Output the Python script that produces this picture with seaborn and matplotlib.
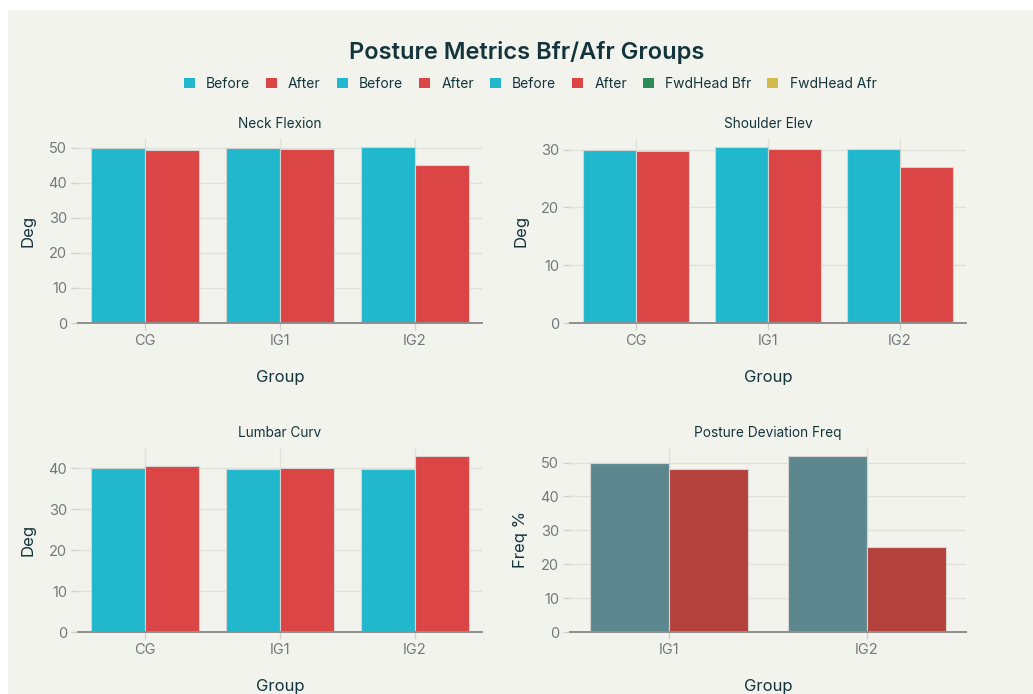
import matplotlib
matplotlib.use("Agg")
import matplotlib.pyplot as plt
from matplotlib.patches import Patch, Rectangle
from matplotlib.ticker import MultipleLocator
import seaborn as sns
import pandas as pd

# ---- data ----
groups = ["CG", "IG1", "IG2"]
neck_before = [50.0, 50.1, 50.3]
neck_after = [49.5, 49.8, 45.0]
shoulder_before = [30.0, 30.5, 30.2]
shoulder_after = [29.8, 30.2, 27.0]
lumbar_before = [40.0, 39.8, 39.9]
lumbar_after = [40.5, 40.0, 43.0]
dev_groups = ["IG1", "IG2"]
dev_before = [50.0, 52.0]
dev_after = [48.0, 25.0]

title = "Posture Metrics Bfr/Afr Groups"
legend_labels = ["Before", "After", "Before", "After", "Before", "After",
                 "FwdHead Bfr", "FwdHead Afr"]

# ---- style ----
BG = "#F3F3EE"
C_BEFORE = "#21B8CD"
C_AFTER = "#DB4545"
C_DEV_B = "#5D878F"
C_DEV_A = "#B4413C"
C_FWD_B = "#2E8B57"
C_FWD_A = "#D2BA4C"
DARK = "#13343B"
TICK = "#72787B"
GRID = "#E2E2DD"

sns.set_theme(style="white")
plt.rcParams["font.family"] = ["Inter", "DejaVu Sans"]

W, H = 1033, 694
fig = plt.figure(figsize=(W / 100, H / 100), dpi=100, facecolor="white")
fig.patches.append(Rectangle((8 / W, 0), 1, 1 - 10 / H, transform=fig.transFigure,
                             facecolor=BG, edgecolor="none", zorder=-10))


def make_df(cats, before, after):
    return pd.DataFrame({
        "Group": list(cats) * 2,
        "Value": list(before) + list(after),
        "Phase": ["Before"] * len(cats) + ["After"] * len(cats),
    })


def px_axes(l, t, r, b):
    return fig.add_axes([l / W, 1 - b / H, (r - l) / W, (b - t) / H])


panels = [
    ("Neck Flexion", "Deg", groups, neck_before, neck_after, C_BEFORE, C_AFTER, (78, 138, 482, 323)),
    ("Shoulder Elev", "Deg", groups, shoulder_before, shoulder_after, C_BEFORE, C_AFTER, (570, 138, 966, 323)),
    ("Lumbar Curv", "Deg", groups, lumbar_before, lumbar_after, C_BEFORE, C_AFTER, (78, 447, 482, 632)),
    ("Posture Deviation Freq", "Freq %", dev_groups, dev_before, dev_after, C_DEV_B, C_DEV_A, (570, 447, 966, 632)),
]

for name, ylab, cats, b, a, cb, ca, box in panels:
    ax = px_axes(*box)
    ax.set_facecolor(BG)
    df = make_df(cats, b, a)
    sns.barplot(data=df, x="Group", y="Value", hue="Phase", order=cats,
                hue_order=["Before", "After"], palette=[cb, ca], width=0.8,
                gap=0, edgecolor="#D4D4D0", linewidth=0.8, ax=ax, legend=False,
                errorbar=None, saturation=1, zorder=3)
    ymax = max(max(b), max(a)) * 1.05
    ax.set_ylim(0, ymax)
    ax.set_xlim(-0.5, len(cats) - 0.5)
    ax.yaxis.set_major_locator(MultipleLocator(10))
    ax.grid(True, axis="both", color=GRID, linewidth=1, zorder=0)
    ax.set_axisbelow(True)
    for s in ["top", "right", "left"]:
        ax.spines[s].set_visible(False)
    ax.spines["bottom"].set_color("#8F8F8F")
    ax.spines["bottom"].set_linewidth(1.4)
    ax.spines["bottom"].set_zorder(5)
    ax.tick_params(axis="both", which="both", length=5, width=1, color="#D0D0CC",
                   labelcolor=TICK, labelsize=10.5, pad=3)
    ax.tick_params(axis="y", left=True)
    ax.tick_params(axis="x", bottom=True)
    ax.set_title(name, fontsize=9.8, color=DARK, pad=7)
    ax.set_xlabel("Group", fontsize=12, color=DARK, labelpad=16)
    ax.set_ylabel(ylab, fontsize=12, color=DARK, labelpad=9)

fig.text(527 / W, 1 - 52 / H, title, ha="center", va="center", fontsize=17,
         fontweight="semibold", color=DARK)

handle_colors = [C_BEFORE, C_AFTER, C_BEFORE, C_AFTER, C_BEFORE, C_AFTER, C_FWD_B, C_FWD_A]
handles = [Patch(facecolor=c, edgecolor="none") for c in handle_colors]
leg = fig.legend(handles, legend_labels, loc="center", bbox_to_anchor=(0.513, 1 - 84 / H),
                 ncol=8, frameon=False, fontsize=10, handlelength=0.8, handleheight=0.8,
                 handletextpad=0.8, columnspacing=1.15, labelcolor=DARK)

fig.savefig("out.png", dpi=100, facecolor="white")
